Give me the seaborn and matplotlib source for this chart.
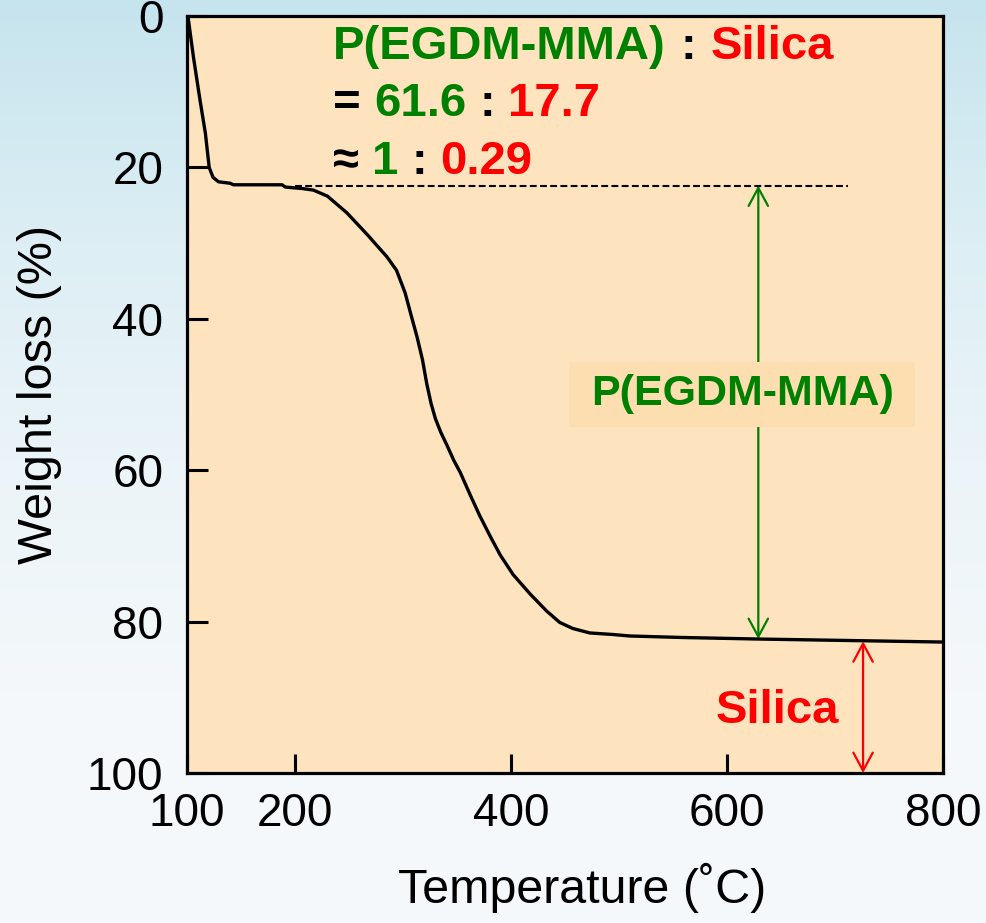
import numpy as np
import matplotlib
matplotlib.use("Agg")
import matplotlib.pyplot as plt
from matplotlib.colors import LinearSegmentedColormap
import seaborn as sns

# TGA curve
temperature = [100, 101, 106, 112, 117, 120.5, 124, 129, 140, 143, 188, 191, 207, 217,
               230, 248, 267, 285, 294, 302, 308, 313, 318, 322, 326, 330, 335, 341,
               347, 353, 362, 371, 381, 390, 402, 418, 433, 445, 457, 473, 494, 510,
               559, 628, 714, 800]
weight_loss = [0, 0.2, 5.5, 11.1, 15.5, 20.0, 21.3, 21.9, 22.1, 22.3, 22.3, 22.6, 22.8,
               23.0, 23.8, 26.0, 28.9, 31.8, 33.6, 36.6, 39.8, 42.4, 45.4, 48.6, 51.2,
               53.2, 55.0, 56.8, 58.7, 60.3, 63.2, 66.0, 68.8, 71.2, 73.8, 76.4, 78.6,
               80.1, 80.9, 81.5, 81.7, 81.9, 82.1, 82.3, 82.5, 82.7]

x_ticks = [100, 200, 400, 600, 800]
y_ticks = [0, 20, 40, 60, 80, 100]

plateau_level = 22.4     # after solvent loss
residue_level = 82.4     # silica residue
dash_span = (200, 712)
polymer_arrow_x = 629
silica_arrow_x = 726

GREEN = "#008000"
RED = "#FF0000"

sns.set_style("ticks")
plt.rcParams["font.family"] = ["Liberation Sans", "DejaVu Sans"]

fig = plt.figure(figsize=(9.87, 9.23), dpi=100)

# light blue gradient behind everything
bg = fig.add_axes([0, 0, 1, 1], zorder=-10)
grad_cmap = LinearSegmentedColormap.from_list(
    "bg", ["#C6E4EE", "#DCEEF4", "#EBF4F8", "#F4F8FA", "#F6F9FB"])
bg.imshow(np.linspace(0, 1, 256).reshape(-1, 1), aspect="auto", cmap=grad_cmap,
          extent=[0, 1, 0, 1])
bg.axis("off")

ax = fig.add_axes([0.1895, 0.1625, 0.7659, 0.8202])
ax.set_facecolor("#FDE4BE")

sns.lineplot(x=temperature, y=weight_loss, color="black", lw=2.4, sort=False,
             ax=ax, zorder=3)

ax.set_xlim(100, 800)
ax.set_ylim(100, 0)
ax.set_xticks(x_ticks)
ax.set_yticks(y_ticks)
ax.set_xticklabels([str(t) for t in x_ticks])
ax.set_yticklabels([str(t) for t in y_ticks])

for sp in ax.spines.values():
    sp.set_visible(True)
    sp.set_linewidth(2.3)
    sp.set_color("black")
    sp.set_zorder(5)

ax.tick_params(axis="both", direction="in", width=2.2, colors="black", labelsize=33)
ax.tick_params(axis="y", length=15, pad=17)
ax.tick_params(axis="x", length=13.5, pad=14)

ax.set_xlabel("Temperature (˚C)", fontsize=34.8, color="black")
ax.set_ylabel("Weight loss (%)", fontsize=35, color="black")
ax.xaxis.set_label_coords(0.5225, -0.119)
ax.yaxis.set_label_coords(-0.166, 0.5)

# dashed reference line at the plateau
ax.hlines(plateau_level, dash_span[0], dash_span[1], colors="black", lw=1.5,
          linestyles=(0, (3.3, 1.6)), zorder=2)

# double arrows
ax.annotate("", xy=(polymer_arrow_x, plateau_level), xytext=(polymer_arrow_x, residue_level - 0.1),
            arrowprops=dict(arrowstyle="<->,head_length=0.65,head_width=0.35",
                            mutation_scale=20, color=GREEN, lw=1.6,
                            shrinkA=0, shrinkB=0), zorder=2)
ax.annotate("", xy=(silica_arrow_x, residue_level + 0.2), xytext=(silica_arrow_x, 100),
            arrowprops=dict(arrowstyle="<->,head_length=0.65,head_width=0.35",
                            mutation_scale=20, color=RED, lw=1.6,
                            shrinkA=0, shrinkB=0), zorder=2)

ax.text(614, 50.0, "P(EGDM-MMA)", color=GREEN, fontsize=31, fontweight="bold",
        ha="center", va="center", zorder=4,
        bbox=dict(boxstyle="square,pad=0.5", fc="#FCDEB1", ec="none",
                  mutation_aspect=0.6))
ax.text(647, 93.4, "Silica", color=RED, fontsize=34, fontweight="bold",
        ha="center", va="baseline", zorder=4)


def colored_line(x, y, parts, size=34, gap=9.5):
    prev = None
    for s, c in parts:
        if prev is None:
            prev = ax.text(x, y, s, color=c, fontsize=size, fontweight="bold",
                           ha="left", va="bottom", zorder=4)
        else:
            prev = ax.annotate(s, xy=(1, 0), xycoords=prev, xytext=(gap, 0),
                               textcoords="offset points", color=c, fontsize=size,
                               fontweight="bold", ha="left", va="bottom", zorder=4)


colored_line(235, 7.0, [("P(EGDM-MMA)", GREEN), (":", "black"), ("Silica", RED)], gap=10.5)
colored_line(235, 14.5, [("=", "black"), ("61.6", GREEN), (":", "black"), ("17.7", RED)])
colored_line(235, 22.2, [("≈", "black"), ("1", GREEN), (":", "black"), ("0.29", RED)])

fig.savefig("out.png", dpi=100)
